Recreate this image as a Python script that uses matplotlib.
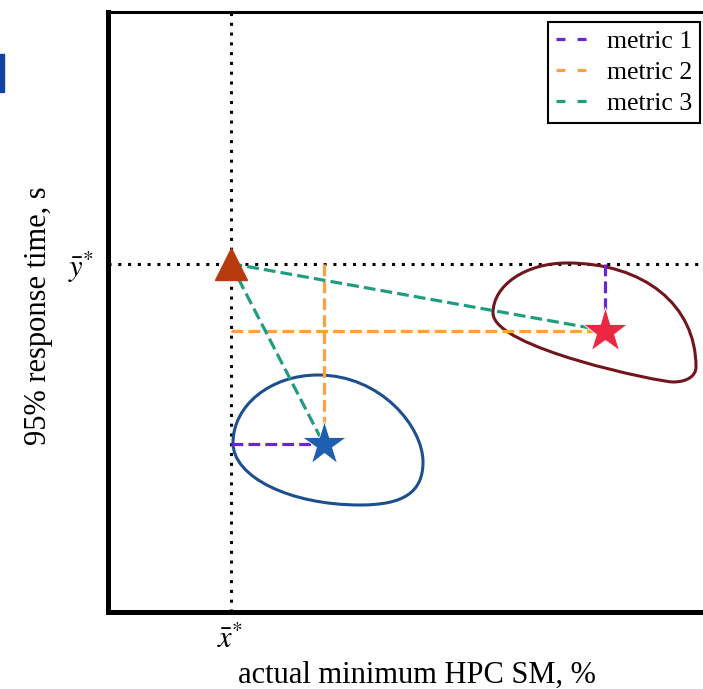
import matplotlib
matplotlib.use("Agg")
import matplotlib.pyplot as plt
from matplotlib.path import Path
from matplotlib.patches import PathPatch, Rectangle
from matplotlib.lines import Line2D

plt.rcParams['font.family'] = 'serif'
plt.rcParams['font.serif'] = ['Liberation Serif', 'DejaVu Serif']
plt.rcParams['mathtext.fontset'] = 'stix'

# reference point (x*, y*)
x_ref = 1.23
y_ref = 3.48

# the two candidate points
blue_pt = (2.16, 1.68)
red_pt = (4.97, 2.81)

# contour outlines, cubic bezier vertices: anchor, ctrl, ctrl, anchor, ...
blue_cx = [1.255, 1.255, 1.635, 2.105, 2.735, 3.155, 3.155, 3.155, 2.965, 2.525, 1.825, 1.255, 1.255]
blue_cy = [1.685, 2.065, 2.365, 2.365, 2.365, 1.845, 1.495, 1.195, 1.065, 1.065, 1.065, 1.345, 1.685]
red_cx = [4.595, 5.365, 5.885, 5.885, 5.885, 5.795, 5.655, 5.525, 3.855, 3.855, 3.855, 4.185, 4.595]
red_cy = [3.485, 3.485, 3.065, 2.445, 2.355, 2.295, 2.295, 2.295, 2.635, 2.985, 3.265, 3.485, 3.485]

legend_labels = ['metric 1', 'metric 2', 'metric 3']
metric_colors = ['#6a25d8', '#ffa040', '#1f9d80']

fig = plt.figure(figsize=(7.03, 6.89), dpi=100)
W, H = 703, 689
ax = fig.add_axes([107.5 / W, (H - 611.5) / H, 600 / W, 600 / H])
ax.set_xlim(0, 6)
ax.set_ylim(0, 6)

# stray blue mark on the left edge of the original
fig.patches.append(Rectangle((0, (H - 92) / H), 3.5 / W, 38 / H,
                             transform=fig.transFigure, color='#1242a3'))

dot = (0, (1, 2.2))
ax.axvline(x_ref, color='black', ls=dot, lw=2.2, zorder=1)
ax.axhline(y_ref, color='black', ls=dot, lw=2.2, zorder=1)


def contour(xs, ys, color):
    verts = list(zip(xs, ys))
    codes = [Path.MOVETO] + [Path.CURVE4] * (len(verts) - 1)
    p = PathPatch(Path(verts, codes), facecolor='none', edgecolor=color, lw=2.2, zorder=2)
    ax.add_patch(p)


contour(blue_cx, blue_cy, '#1d4f8e')
contour(red_cx, red_cy, '#72161d')

lw = 2.3
# metric 1
ax.plot([x_ref, blue_pt[0]], [blue_pt[1], blue_pt[1]], '--', color=metric_colors[0], lw=lw, zorder=3)
ax.plot([red_pt[0], red_pt[0]], [y_ref, red_pt[1]], '--', color=metric_colors[0], lw=lw, zorder=3)
# metric 2
ax.plot([blue_pt[0], blue_pt[0]], [y_ref, blue_pt[1]], '--', color=metric_colors[1], lw=lw, zorder=3)
ax.plot([x_ref, red_pt[0]], [red_pt[1], red_pt[1]], '--', color=metric_colors[1], lw=lw, zorder=3)
# metric 3
ax.plot([x_ref, blue_pt[0]], [y_ref, blue_pt[1]], '--', color=metric_colors[2], lw=lw, zorder=3.5)
ax.plot([x_ref, red_pt[0]], [y_ref, red_pt[1]], '--', color=metric_colors[2], lw=lw, zorder=3.5)

ax.plot(x_ref, y_ref, '^', ms=23.5, color='#b83a0f', zorder=5)
ax.plot(*blue_pt, '*', ms=33, color='#1f5fb2', mec='white', mew=0.6, zorder=5)
ax.plot(*red_pt, '*', ms=34, color='#ec2742', mec='white', mew=0.6, zorder=5)

handles = [Line2D([], [], ls=(0, (2.8, 3.8)), color=c, lw=lw) for c in metric_colors]
leg = ax.legend(handles, legend_labels, loc='upper right', bbox_to_anchor=(0.9875, 0.9825),
                borderaxespad=0, fancybox=False, framealpha=1, edgecolor='black',
                fontsize=18.5, handlelength=1.3, handletextpad=0.7, labelspacing=0.32,
                borderpad=0.3)
leg.get_frame().set_linewidth(1.5)

ax.set_xticks([x_ref])
ax.set_xticklabels([r'$\bar{x}^{*}$'], fontsize=22)
ax.set_yticks([y_ref])
ax.set_yticklabels([r'$\bar{y}^{*}$'], fontsize=22)
ax.tick_params(length=0, pad=10)

ax.set_xlabel('actual minimum HPC SM, %', fontsize=22)
ax.set_ylabel('95% response time, s', fontsize=22)
ax.xaxis.set_label_coords(0.515, -0.082)
ax.yaxis.set_label_coords(-0.09, 0.4925)

ax.spines['left'].set_linewidth(3.6)
ax.spines['bottom'].set_linewidth(3.6)
ax.spines['top'].set_linewidth(2.2)
ax.spines['right'].set_linewidth(2.2)

fig.savefig('out.png', dpi=100)
